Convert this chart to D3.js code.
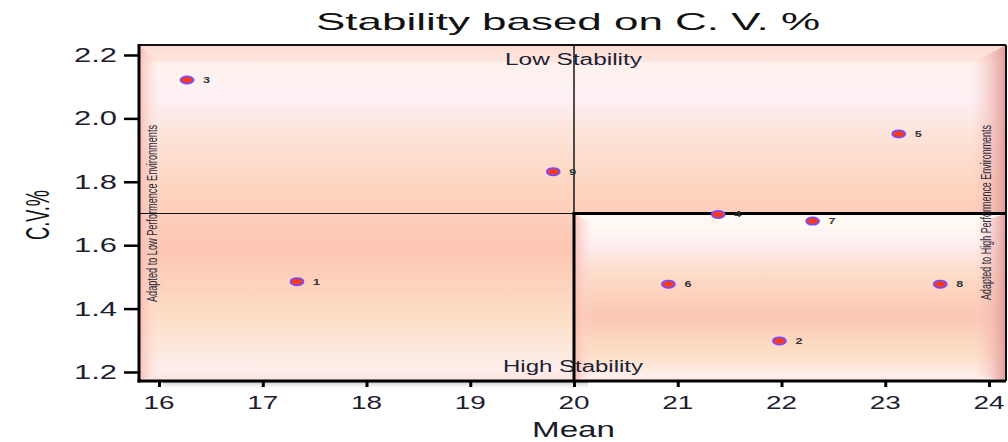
<!DOCTYPE html>
<html>
<head>
<meta charset="utf-8">
<script src="https://cdn.jsdelivr.net/npm/d3@7"></script>
<style>
html,body{margin:0;padding:0;background:#fff;}
svg{display:block;}
text{font-family:"Liberation Sans",Arial,sans-serif;}
</style>
</head>
<body>
<svg id="chart" width="1008" height="442"></svg>
<script>
// ---- data ----
const genotypes = ["1","2","3","4","5","6","7","8","9"];
const means = [17.33, 21.98, 16.27, 21.39, 23.13, 20.91, 22.30, 23.53, 19.80];
const cvs   = [1.485, 1.298, 2.121, 1.697, 1.951, 1.477, 1.676, 1.477, 1.832];
const xTicks = [16, 17, 18, 19, 20, 21, 22, 23, 24];
const yTicks = [1.2, 1.4, 1.6, 1.8, 2.0, 2.2];
const meanRef = 20;
const cvRef = 1.7;
const titleText = "Stability based on C. V. %";
const xLabel = "Mean";
const yLabel = "C.V.%";
const topNote = "Low Stability";
const bottomNote = "High Stability";
const leftNote = "Adapted to Low Performence Environments";
const rightNote = "Adapted to High Performence Environments";

// ---- layout ----
const L = 139, R = 1006, T = 45, B = 381;
const svg = d3.select("#chart");
const x = d3.scaleLinear().domain([15.807, 24.164]).range([L, R]);
const y = d3.scaleLinear().domain([1.1716, 2.2315]).range([B, T]);

const defs = svg.append("defs");
function vgrad(id, stops){
  const g = defs.append("linearGradient").attr("id", id).attr("x1",0).attr("y1",0).attr("x2",0).attr("y2",1);
  stops.forEach(s => g.append("stop").attr("offset", s[0]).attr("stop-color", s[1]).attr("stop-opacity", s[2] === undefined ? 1 : s[2]));
}
function hgrad(id, stops){
  const g = defs.append("linearGradient").attr("id", id).attr("x1",0).attr("y1",0).attr("x2",1).attr("y2",0);
  stops.forEach(s => g.append("stop").attr("offset", s[0]).attr("stop-color", s[1]).attr("stop-opacity", s[2] === undefined ? 1 : s[2]));
}
vgrad("mainBg", [
  [0, "#fbdcd4"], [0.045, "#fde4dc"], [0.055, "#fef2ee"], [0.16, "#fdf0f4"],
  [0.26, "#fde4da"], [0.42, "#fdd5c1"], [0.61, "#fcc6b2"], [0.82, "#fde0c8"],
  [0.96, "#fdeeea"], [1, "#fde4de"]
]);
vgrad("quadBg", [
  [0, "#fffbf7"], [0.08, "#fff8f3"], [0.18, "#fdeef2"], [0.36, "#fddcc8"],
  [0.62, "#fbc8b5"], [0.85, "#fde0c8"], [0.97, "#fdefea"], [1, "#fde6e0"]
]);
hgrad("leftBevel", [[0, "#f7b8b4", 0.85], [0.6, "#fbd0c8", 0.4], [1, "#fde0d8", 0]]);
hgrad("rightBevel", [[0, "#f4c0b8", 0], [0.5, "#f0b4ae", 0.5], [1, "#e0979a", 0.95]]);
vgrad("shadowG", [[0, "#b0b0b0", 0.7], [1, "#e8e8e8", 0]]);

const bg = svg.append("g");
bg.append("rect").attr("x", L).attr("y", T).attr("width", R - L).attr("height", B - T).attr("fill", "url(#mainBg)");
// bevels of main panel
bg.append("polygon").attr("points", [[L,T],[L+20,T+18],[L+20,B-8],[L,B]].join(" ")).attr("fill", "url(#leftBevel)");
bg.append("polygon").attr("points", [[R,T],[R-34,T+18],[R-34,B-8],[R,B]].join(" ")).attr("fill", "url(#rightBevel)");

// lower-right quadrant panel
const qx = x(meanRef), qy = y(cvRef);
bg.append("rect").attr("x", qx).attr("y", qy).attr("width", R - qx).attr("height", B - qy).attr("fill", "url(#quadBg)");
bg.append("polygon").attr("points", [[qx,qy],[qx+18,qy+10],[qx+18,B-6],[qx,B]].join(" ")).attr("fill", "url(#leftBevel)");
bg.append("polygon").attr("points", [[R,qy],[R-30,qy+10],[R-30,B-6],[R,B]].join(" ")).attr("fill", "url(#rightBevel)");

// shadow below x-axis
svg.append("rect").attr("x", x(16) + 4).attr("y", B + 1).attr("width", x(meanRef) + 14 - x(16) - 4).attr("height", 7).attr("fill", "url(#shadowG)");

// reference lines
svg.append("line").attr("x1", L).attr("x2", qx).attr("y1", qy).attr("y2", qy).attr("stroke", "#111").attr("stroke-width", 1.2);
svg.append("line").attr("x1", qx).attr("x2", qx).attr("y1", T).attr("y2", qy).attr("stroke", "#222").attr("stroke-width", 1.6);
svg.append("line").attr("x1", qx - 1.5).attr("x2", R).attr("y1", qy).attr("y2", qy).attr("stroke", "#000").attr("stroke-width", 3);
svg.append("line").attr("x1", qx).attr("x2", qx).attr("y1", qy).attr("y2", B).attr("stroke", "#000").attr("stroke-width", 3);

// border top/right
svg.append("line").attr("x1", L).attr("x2", R).attr("y1", T).attr("y2", T).attr("stroke", "#111").attr("stroke-width", 2);
svg.append("line").attr("x1", R).attr("x2", R).attr("y1", T).attr("y2", B).attr("stroke", "#111").attr("stroke-width", 2);

// axes
const xAxis = d3.axisBottom(x).tickValues(xTicks).tickSize(6).tickFormat("");
const gx = svg.append("g").attr("transform", `translate(0,${B})`).call(xAxis);
gx.select(".domain").remove();
gx.selectAll(".tick line").attr("stroke", "#000").attr("stroke-width", 3);
svg.append("line").attr("x1", L - 1.5).attr("x2", R).attr("y1", B).attr("y2", B).attr("stroke", "#000").attr("stroke-width", 3);

const yAxis = d3.axisLeft(y).tickValues(yTicks).tickSize(15).tickFormat("");
const gy = svg.append("g").attr("transform", `translate(${L},0)`).call(yAxis);
gy.select(".domain").remove();
gy.selectAll(".tick line").attr("stroke", "#000").attr("stroke-width", 2.5);
svg.append("line").attr("x1", L).attr("x2", L).attr("y1", T - 1).attr("y2", B + 1.5).attr("stroke", "#000").attr("stroke-width", 3);

// tick labels
svg.append("g").selectAll("text").data(xTicks).join("text")
  .attr("x", d => x(d)).attr("y", 409).attr("text-anchor", "middle")
  .attr("font-size", 19).attr("fill", "#1e1e30")
  .attr("textLength", 31).attr("lengthAdjust", "spacingAndGlyphs")
  .text(d => d);
svg.append("g").selectAll("text").data(yTicks).join("text")
  .attr("x", 117).attr("y", d => y(d) + 7).attr("text-anchor", "end")
  .attr("font-size", 19.5).attr("fill", "#1e1e30")
  .attr("textLength", 43).attr("lengthAdjust", "spacingAndGlyphs")
  .text(d => d3.format(".1f")(d));

// titles
svg.append("text").attr("x", 568).attr("y", 30).attr("text-anchor", "middle")
  .attr("font-size", 24).attr("fill", "#111")
  .attr("textLength", 504).attr("lengthAdjust", "spacingAndGlyphs").text(titleText);
svg.append("text").attr("x", 573.5).attr("y", 437).attr("text-anchor", "middle")
  .attr("font-size", 22).attr("fill", "#1a1a28")
  .attr("textLength", 83).attr("lengthAdjust", "spacingAndGlyphs").text(xLabel);
svg.append("text").attr("transform", "translate(49,215) rotate(-90)").attr("text-anchor", "middle")
  .attr("font-size", 34).attr("fill", "#111")
  .attr("textLength", 50).attr("lengthAdjust", "spacingAndGlyphs").text(yLabel);

// notes
svg.append("text").attr("x", 573.5).attr("y", 65).attr("text-anchor", "middle")
  .attr("font-size", 16).attr("fill", "#1e2236")
  .attr("textLength", 137).attr("lengthAdjust", "spacingAndGlyphs").text(topNote);
svg.append("text").attr("x", 573).attr("y", 372).attr("text-anchor", "middle")
  .attr("font-size", 16).attr("fill", "#1e2236")
  .attr("textLength", 140).attr("lengthAdjust", "spacingAndGlyphs").text(bottomNote);
svg.append("text").attr("transform", "translate(157,213.5) rotate(-90)").attr("text-anchor", "middle")
  .attr("font-size", 15).attr("fill", "#2a2a3a")
  .attr("textLength", 177).attr("lengthAdjust", "spacingAndGlyphs").text(leftNote);
svg.append("text").attr("transform", "translate(991,212.5) rotate(-90)").attr("text-anchor", "middle")
  .attr("font-size", 15).attr("fill", "#2a2a3a")
  .attr("textLength", 175).attr("lengthAdjust", "spacingAndGlyphs").text(rightNote);

// points
const pts = genotypes.map((g, i) => ({g, m: means[i], c: cvs[i]}));
const gp = svg.append("g");
gp.selectAll("ellipse").data(pts).join("ellipse")
  .attr("cx", d => x(d.m)).attr("cy", d => y(d.c))
  .attr("rx", 6.5).attr("ry", 3.6)
  .attr("fill", "#ff3a10").attr("stroke", "#7a4cff").attr("stroke-width", 1.8);
gp.selectAll("text").data(pts).join("text")
  .attr("x", d => x(d.m) + 16).attr("y", d => y(d.c) + 3)
  .attr("font-size", 9).attr("font-weight", "bold").attr("fill", "#333")
  .attr("textLength", 7).attr("lengthAdjust", "spacingAndGlyphs")
  .text(d => d.g);
</script>
</body>
</html>
